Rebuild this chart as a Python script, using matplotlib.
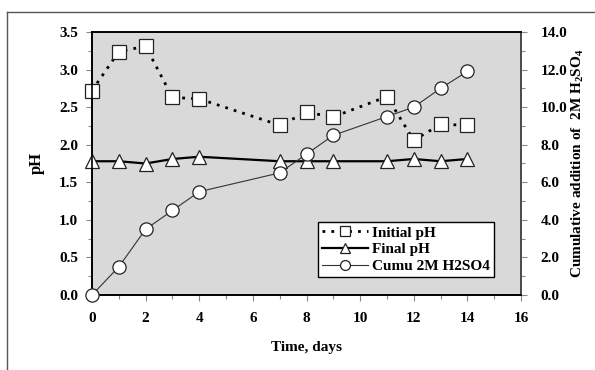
import matplotlib
matplotlib.use("Agg")
import matplotlib.pyplot as plt
from matplotlib.lines import Line2D
from matplotlib.ticker import MultipleLocator

days = [0, 1, 2, 3, 4, 7, 8, 9, 11, 12, 13, 14]
initial_ph = [2.72, 3.24, 3.31, 2.63, 2.61, 2.26, 2.43, 2.37, 2.64, 2.06, 2.27, 2.26]
final_ph = [1.78, 1.78, 1.75, 1.81, 1.84, 1.78, 1.78, 1.78, 1.78, 1.81, 1.78, 1.81]
cumu_acid = [0.0, 1.5, 3.5, 4.5, 5.5, 6.5, 7.5, 8.5, 9.5, 10.0, 11.0, 11.9]

plt.rcParams['font.family'] = ['Liberation Serif', 'DejaVu Serif']
plt.rcParams['font.weight'] = 'bold'
plt.rcParams['mathtext.fontset'] = 'custom'
plt.rcParams['mathtext.rm'] = 'Liberation Serif:bold'
plt.rcParams['mathtext.it'] = 'Liberation Serif:bold'
plt.rcParams['mathtext.bf'] = 'Liberation Serif:bold'

W, H = 595, 370
fig = plt.figure(figsize=(W / 100, H / 100), dpi=100)
fig.patch.set_facecolor('white')

# outer border (partially cut off in the reference)
fig.add_artist(Line2D([7 / W, 7 / W], [0, 1 - 12 / H], transform=fig.transFigure, color='#555555', lw=1))
fig.add_artist(Line2D([7 / W, 1], [1 - 12 / H, 1 - 12 / H], transform=fig.transFigure, color='#555555', lw=1))

left, right, top, bottom = 92, 521, 32, 295
ax = fig.add_axes([left / W, 1 - bottom / H, (right - left) / W, (bottom - top) / H])
ax.set_facecolor('#D9D9D9')
ax2 = ax.twinx()

l1, = ax.plot(days, initial_ph, linestyle=(0, (1, 2.2)), color='black', lw=2,
              marker='s', markersize=9.5, markerfacecolor='white', markeredgecolor='#222222',
              markeredgewidth=0.9, label='Initial pH', zorder=3, clip_on=False)
l2, = ax.plot(days, final_ph, linestyle='-', color='black', lw=1.6,
              marker='^', markersize=10, markerfacecolor='white', markeredgecolor='#222222',
              markeredgewidth=0.9, label='Final pH', zorder=3, clip_on=False)
l3, = ax2.plot(days, cumu_acid, linestyle='-', color='#333333', lw=0.8,
               marker='o', markersize=9.5, markerfacecolor='white', markeredgecolor='#222222',
               markeredgewidth=0.9, label='Cumu 2M H2SO4', zorder=3, clip_on=False)

ax.set_xlim(0, 16)
ax.set_ylim(0, 3.5)
ax2.set_ylim(0, 14)
ax.xaxis.set_major_locator(MultipleLocator(2))
ax.xaxis.set_minor_locator(MultipleLocator(1))
ax.yaxis.set_major_locator(MultipleLocator(0.5))
ax.yaxis.set_minor_locator(MultipleLocator(0.25))
ax2.yaxis.set_major_locator(MultipleLocator(2))
ax2.yaxis.set_minor_locator(MultipleLocator(1))
ax.yaxis.set_major_formatter(plt.FuncFormatter(lambda v, p: f"{v:.1f}"))
ax2.yaxis.set_major_formatter(plt.FuncFormatter(lambda v, p: f"{v:.1f}"))

for a in (ax, ax2):
    for s in a.spines.values():
        s.set_color('black')
        s.set_linewidth(1.2)
    a.tick_params(which='major', length=4, width=0.8, color='#888888', labelsize=11, pad=6)
    a.tick_params(which='minor', length=3, width=0.8, color='#888888')
ax.tick_params(axis='x', pad=8)
ax2.tick_params(axis='y', pad=10)
ax2.spines['right'].set_color('#555555')

ax.set_xlabel('Time, days', fontsize=11, fontweight='bold', labelpad=12)
ax.set_ylabel('pH', fontsize=12, fontweight='bold', labelpad=10)
ax2.set_ylabel(r'Cumulative addition of  2M H$_2$SO$_4$', fontsize=11, fontweight='bold',
               rotation=90, labelpad=2)

leg = ax.legend(handles=[l1, l2, l3], loc='lower right', bbox_to_anchor=(0.955, 0.04),
                prop={'size': 11, 'weight': 'bold'}, frameon=True, fancybox=False,
                edgecolor='black', facecolor='white', framealpha=1, borderpad=0.25,
                labelspacing=0.2, handlelength=3.0, handletextpad=0.3, markerscale=0.75)
leg.get_frame().set_linewidth(1.0)
leg.set_zorder(10)

fig.savefig('out.png', dpi=100, facecolor='white')
